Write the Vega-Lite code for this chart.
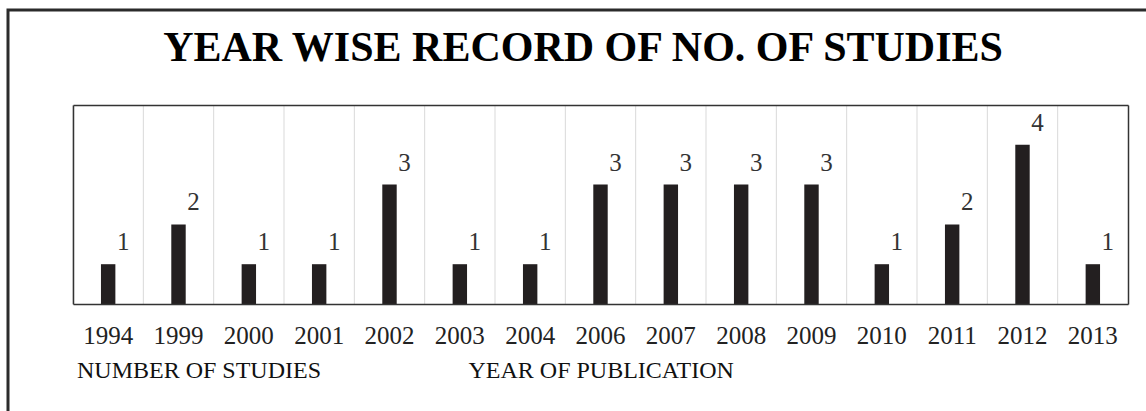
{
  "$schema": "https://vega.github.io/schema/vega-lite/v6.json",
  "autosize": "none",
  "width": 1150,
  "height": 420,
  "padding": {"left": 8, "top": 10, "right": 0, "bottom": 0},
  "background": "white",
  "title": {"text": "YEAR WISE RECORD OF NO. OF STUDIES", "font": "Liberation Serif", "fontSize": 42, "fontWeight": "bold", "color": "#000", "anchor": "middle", "offset": -53, "dy": 40, "baseline": "alphabetic"},
  "config": {"view": {"stroke": "#2b2b2b", "strokeWidth": 3}},
  "data": {"values": [
    {"year": "1994", "count": 1},
    {"year": "1999", "count": 2},
    {"year": "2000", "count": 1},
    {"year": "2001", "count": 1},
    {"year": "2002", "count": 3},
    {"year": "2003", "count": 1},
    {"year": "2004", "count": 1},
    {"year": "2006", "count": 3},
    {"year": "2007", "count": 3},
    {"year": "2008", "count": 3},
    {"year": "2009", "count": 3},
    {"year": "2010", "count": 1},
    {"year": "2011", "count": 2},
    {"year": "2012", "count": 4},
    {"year": "2013", "count": 1}
  ]},
  "layer": [
    {
      "mark": {"type": "rule", "color": "#d9d9d9", "strokeWidth": 1},
      "encoding": {
        "x": {"field": "year", "type": "ordinal", "bandPosition": 0,
              "scale": {"range": [65, 1120], "paddingInner": 0, "paddingOuter": 0},
              "axis": {"orient": "top", "offset": -95, "labels": false, "ticks": false, "grid": false, "title": null, "domainColor": "#333", "domainWidth": 1.5, "zindex": 1}},
        "y": {"datum": 0, "type": "quantitative",
              "scale": {"domain": [0, 5], "range": [294, 95]},
              "axis": {"orient": "right", "offset": -30, "labels": false, "ticks": false, "grid": false, "title": null, "domainColor": "#333", "domainWidth": 1.5, "zindex": 1}},
        "y2": {"datum": 5}
      }
    },
    {
      "mark": {"type": "bar", "width": {"band": 0.205}},
      "encoding": {
        "x": {"field": "year", "type": "ordinal",
              "axis": {"orient": "bottom", "offset": -126, "ticks": false, "tickSize": 0, "labelPadding": 39, "labelAngle": 0, "labelBaseline": "alphabetic", "labelFont": "Liberation Serif", "labelFontSize": 25, "labelColor": "#222", "domainColor": "#333", "domainWidth": 1.5, "grid": false, "zindex": 1,
                       "title": "YEAR OF PUBLICATION", "titleX": 460, "titleY": 73, "titleAlign": "left", "titleBaseline": "alphabetic", "titleFont": "Liberation Serif", "titleFontSize": 24, "titleFontWeight": "normal", "titleColor": "#111"}},
        "y": {"field": "count", "type": "quantitative",
              "axis": {"orient": "left", "offset": -65, "labels": false, "ticks": false, "grid": false, "title": null, "domainColor": "#333", "domainWidth": 1.5, "zindex": 1}},
        "color": {"datum": "NUMBER OF STUDIES", "type": "nominal", "scale": {"range": ["#231f20"]},
                  "legend": {"orient": "none", "legendX": 45, "legendY": 349, "title": null, "symbolSize": 0, "symbolOpacity": 0, "symbolStrokeWidth": 0, "labelFont": "Liberation Serif", "labelFontSize": 24, "labelColor": "#111", "labelOffset": 0, "labelLimit": 0, "padding": 0}}
      }
    },
    {
      "mark": {"type": "text", "dx": 15, "dy": -14, "baseline": "alphabetic", "align": "center", "font": "Liberation Serif", "fontSize": 25, "color": "#333"},
      "encoding": {
        "x": {"field": "year", "type": "ordinal", "axis": null},
        "y": {"field": "count", "type": "quantitative", "axis": null},
        "text": {"field": "count", "type": "quantitative"}
      }
    }
  ],
  "resolve": {"axis": {"x": "independent", "y": "independent"}}
}
